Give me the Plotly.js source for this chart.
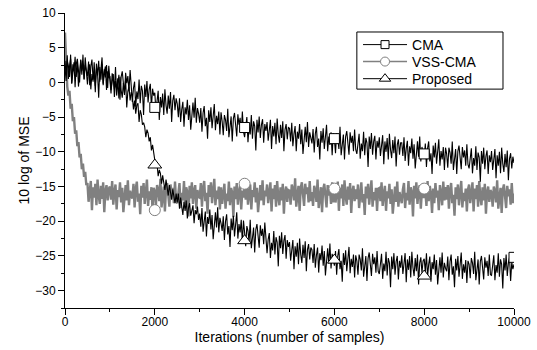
<!DOCTYPE html>
<html>
<head>
<meta charset="utf-8">
<script src="https://cdn.plot.ly/plotly-3.0.1.min.js"></script>
<style>html,body{margin:0;padding:0;background:#fff;}#chart{width:537px;height:350px;}</style>
</head>
<body>
<div id="chart"></div>
<script>
// Iteration index grid: one value every 25 samples, 0..10000
var STEP = 25;

var cma = [
3.1, 1.2, 3.9, 0.5, 2.3, 3.4, -0.2, 2.6, 1.6, 3.7, 0.8, 2.9, -0.6, 2.2, 3.3, 1.1, 4.0, 0.4, 2.5, 1.7,
0.9, 3.0, -0.4, 2.3, 3.3, 0.4, 1.6, -1.4, 2.7, 1.0, 3.1, 0.1, 2.2, 3.6, -0.2, 1.9, 0.7, 2.5, -0.8, 2.4,
0.4, -1.6, 1.3, 0.6, -1.0, 2.2, -1.9, -0.2, 1.1, -2.5, 0.8, 1.6, -0.7, -1.8, 1.4, -0.1, 0.9, -1.3, 1.8, -1.1,
-2.8, -0.8, 0.1, -3.5, -1.3, -2.4, 0.4, -3.0, -0.5, -1.2, -4.7, -0.3, -2.1, 0.2, -2.9, -1.0, -0.2, -3.6, -0.9, -1.9,
-1.5, -4.2, -2.8, -1.2, -5.4, -2.1, -3.6, -1.6, -4.7, -1.0, -3.3, -4.5, -1.9, -3.8, -1.4, -5.7, -2.6, -1.8, -4.0, -2.3,
-3.1, -5.0, -2.3, -5.7, -3.9, -2.8, -6.4, -3.6, -4.6, -2.5, -5.4, -3.3, -6.8, -4.0, -2.9, -5.1, -2.2, -5.8, -3.7, -4.5,
-5.8, -3.7, -7.1, -4.4, -3.4, -6.3, -5.1, -8.1, -4.0, -5.7, -3.6, -6.6, -4.5, -3.1, -6.9, -4.8, -6.0, -4.2, -7.5, -4.3,
-5.6, -7.6, -4.7, -5.4, -7.0, -3.8, -7.9, -6.2, -4.9, -8.5, -5.2, -4.4, -6.7, -7.8, -4.6, -6.1, -5.1, -7.3, -4.2, -7.1,
-7.9, -5.9, -5.0, -8.6, -6.4, -7.5, -4.7, -8.1, -5.6, -6.3, -9.8, -5.4, -7.2, -4.9, -8.0, -6.1, -5.3, -8.7, -6.0, -7.0,
-5.7, -8.4, -7.0, -5.4, -9.6, -6.3, -7.8, -5.8, -8.9, -5.2, -7.5, -8.7, -6.1, -8.0, -5.6, -9.9, -6.8, -6.0, -8.2, -6.5,
-6.6, -8.5, -5.8, -9.2, -7.4, -6.3, -9.9, -7.1, -8.1, -6.0, -8.9, -6.8, -10.3, -7.5, -6.4, -8.6, -5.7, -9.3, -7.2, -8.0,
-8.8, -6.7, -10.1, -7.4, -6.4, -9.3, -8.1, -11.1, -7.0, -8.7, -6.6, -9.6, -7.5, -6.1, -9.9, -7.8, -9.0, -7.2, -10.5, -7.3,
-8.2, -10.2, -7.3, -8.0, -9.6, -6.4, -10.5, -8.8, -7.5, -11.1, -7.8, -7.0, -9.3, -10.4, -7.2, -8.7, -7.7, -9.9, -6.8, -9.7,
-10.3, -8.3, -7.4, -11.0, -8.8, -9.9, -7.1, -10.5, -8.0, -8.7, -12.2, -7.8, -9.6, -7.3, -10.4, -8.5, -7.7, -11.1, -8.4, -9.4,
-7.9, -10.6, -9.2, -7.6, -11.8, -8.5, -10.0, -8.0, -11.1, -7.4, -9.7, -10.9, -8.3, -10.2, -7.8, -12.1, -9.0, -8.2, -10.4, -8.7,
-8.7, -10.6, -7.9, -11.3, -9.5, -8.4, -12.0, -9.2, -10.2, -8.1, -11.0, -8.9, -12.4, -9.6, -8.5, -10.7, -7.8, -11.4, -9.3, -10.1,
-10.9, -8.8, -12.2, -9.5, -8.5, -11.4, -10.2, -13.2, -9.1, -10.8, -8.7, -11.7, -9.6, -8.2, -12.0, -9.9, -11.1, -9.3, -12.6, -9.4,
-10.3, -12.3, -9.4, -10.1, -11.7, -8.5, -12.6, -10.9, -9.6, -13.2, -9.9, -9.1, -11.4, -12.5, -9.3, -10.8, -9.8, -12.0, -8.9, -11.8,
-12.4, -10.4, -9.5, -13.1, -10.9, -12.0, -9.2, -12.6, -10.1, -10.8, -14.3, -9.9, -11.7, -9.4, -12.5, -10.6, -9.8, -13.2, -10.5, -11.5,
-9.9, -12.6, -11.2, -9.6, -13.8, -10.5, -12.0, -10.0, -13.1, -9.4, -11.7, -12.9, -10.3, -12.2, -9.8, -14.1, -11.0, -10.2, -12.4, -10.7,
-11.6
];

var vssCma = [
7.2, 1.5, -0.6, -1.9, -1.2, -3.8, -3.1, -5.6, -5.0, -7.4, -6.9, -9.2, -8.6, -10.8, -10.3, -12.5, -11.7, -13.6, -12.9, -14.8,
-14.5, -17.2, -15.8, -14.2, -18.4, -15.1, -16.6, -14.6, -17.7, -14.0, -16.3, -17.5, -14.9, -16.8, -14.4, -18.7, -15.6, -14.8, -17.0, -15.3,
-15.0, -16.9, -14.2, -17.6, -15.8, -14.7, -18.3, -15.5, -16.5, -14.4, -17.3, -15.2, -18.7, -15.9, -14.8, -17.0, -14.1, -17.7, -15.6, -16.4,
-16.7, -14.6, -18.0, -15.3, -14.3, -17.2, -16.0, -19.0, -14.9, -16.6, -14.5, -17.5, -15.4, -14.0, -17.8, -15.7, -16.9, -15.1, -18.4, -15.2,
-15.7, -17.7, -14.8, -15.5, -17.1, -13.9, -18.0, -16.3, -15.0, -18.6, -15.3, -14.5, -16.8, -17.9, -14.7, -16.2, -15.2, -17.4, -14.3, -17.2,
-17.4, -15.4, -14.5, -18.1, -15.9, -17.0, -14.2, -17.6, -15.1, -15.8, -19.3, -14.9, -16.7, -14.4, -17.5, -15.6, -14.8, -18.2, -15.5, -16.5,
-16.6, -14.5, -17.9, -15.2, -14.2, -17.1, -15.9, -18.9, -14.8, -16.5, -14.4, -17.4, -15.3, -13.9, -17.7, -15.6, -16.8, -15.0, -18.3, -15.1,
-17.5, -15.5, -14.6, -18.2, -16.0, -17.1, -14.3, -17.7, -15.2, -15.9, -19.4, -15.0, -16.8, -14.5, -17.6, -15.7, -14.9, -18.3, -15.6, -16.6,
-15.0, -16.9, -14.2, -17.6, -15.8, -14.7, -18.3, -15.5, -16.5, -14.4, -17.3, -15.2, -18.7, -15.9, -14.8, -17.0, -14.1, -17.7, -15.6, -16.4,
-14.7, -17.4, -16.0, -14.4, -18.6, -15.3, -16.8, -14.8, -17.9, -14.2, -16.5, -17.7, -15.1, -17.0, -14.6, -18.9, -15.8, -15.0, -17.2, -15.5,
-15.6, -17.6, -14.7, -15.4, -17.0, -13.8, -17.9, -16.2, -14.9, -18.5, -15.2, -14.4, -16.7, -17.8, -14.6, -16.1, -15.1, -17.3, -14.2, -17.1,
-15.8, -17.8, -14.9, -15.6, -17.2, -14.0, -18.1, -16.4, -15.1, -18.7, -15.4, -14.6, -16.9, -18.0, -14.8, -16.3, -15.3, -17.5, -14.4, -17.3,
-14.6, -17.3, -15.9, -14.3, -18.5, -15.2, -16.7, -14.7, -17.8, -14.1, -16.4, -17.6, -15.0, -16.9, -14.5, -18.8, -15.7, -14.9, -17.1, -15.4,
-16.8, -14.7, -18.1, -15.4, -14.4, -17.3, -16.1, -19.1, -15.0, -16.7, -14.6, -17.6, -15.5, -14.1, -17.9, -15.8, -17.0, -15.2, -18.5, -15.3,
-15.2, -17.1, -14.4, -17.8, -16.0, -14.9, -18.5, -15.7, -16.7, -14.6, -17.5, -15.4, -18.9, -16.1, -15.0, -17.2, -14.3, -17.9, -15.8, -16.6,
-17.4, -15.4, -14.5, -18.1, -15.9, -17.0, -14.2, -17.6, -15.1, -15.8, -19.3, -14.9, -16.7, -14.4, -17.5, -15.6, -14.8, -18.2, -15.5, -16.5,
-16.5, -15.7, -17.8, -14.2, -17.1, -14.9, -16.0, -18.8, -15.3, -17.4, -14.5, -16.6, -15.6, -18.4, -14.8, -15.9, -17.7, -14.3, -17.0, -15.1,
-16.9, -14.8, -18.2, -15.5, -14.5, -17.4, -16.2, -19.2, -15.1, -16.8, -14.7, -17.7, -15.6, -14.2, -18.0, -15.9, -17.1, -15.3, -18.6, -15.4,
-14.7, -17.4, -16.0, -14.4, -18.6, -15.3, -16.8, -14.8, -17.9, -14.2, -16.5, -17.7, -15.1, -17.0, -14.6, -18.9, -15.8, -15.0, -17.2, -15.5,
-15.9, -17.9, -15.0, -15.7, -17.3, -14.1, -18.2, -16.5, -15.2, -18.8, -15.5, -14.7, -17.0, -18.1, -14.9, -16.4, -15.4, -17.6, -14.5, -17.4,
-16.0
];

var proposed = [
2.2, 0.2, 3.1, 2.4, 0.8, 4.0, -0.1, 1.6, 2.9, -0.7, 2.6, 3.4, 1.1, 0.0, 3.2, 1.7, 2.7, 0.5, 3.6, 0.7,
-0.3, 1.7, 2.6, -1.0, 1.2, 0.1, 2.9, -0.5, 2.0, 1.3, -2.2, 2.2, 0.4, 2.7, -0.4, 1.5, 2.3, -1.1, 1.6, 0.6,
0.9, -1.1, 0.0, 1.2, -2.1, 0.2, -1.0, 0.6, -2.3, 0.8, -1.1, -2.2, -0.1, -1.5, 0.4, -3.6, -1.3, -0.6, -2.6, -1.4,
-2.0, -3.9, -2.6, -4.5, -3.3, -3.0, -5.7, -4.0, -4.6, -6.1, -5.8, -6.4, -7.9, -6.8, -7.3, -8.5, -7.9, -9.8, -9.0, -10.6,
-11.2, -12.3, -11.8, -13.5, -12.6, -13.1, -14.6, -13.4, -14.2, -15.5, -14.0, -15.1, -16.3, -14.8, -15.6, -16.9, -15.4, -16.2, -17.4, -16.0,
-17.3, -16.0, -18.2, -16.6, -17.9, -19.1, -17.2, -18.5, -17.0, -19.6, -18.1, -17.4, -19.2, -18.6, -17.7, -20.3, -18.4, -19.0, -17.9, -19.8,
-18.9, -20.8, -18.1, -21.5, -19.7, -18.6, -22.2, -19.4, -20.4, -18.3, -21.2, -19.1, -22.6, -19.8, -18.7, -20.9, -18.0, -21.6, -19.5, -20.3,
-21.4, -19.3, -22.7, -20.0, -19.0, -21.9, -20.7, -23.7, -19.6, -21.3, -19.2, -22.2, -20.1, -18.7, -22.5, -20.4, -21.6, -19.8, -23.1, -19.9,
-21.6, -23.6, -20.7, -21.4, -23.0, -19.8, -23.9, -22.2, -20.9, -24.5, -21.2, -20.4, -22.7, -23.8, -20.6, -22.1, -21.1, -23.3, -20.2, -23.1,
-24.6, -22.6, -21.7, -25.3, -23.1, -24.2, -21.4, -24.8, -22.3, -23.0, -26.5, -22.1, -23.9, -21.6, -24.7, -22.8, -22.0, -25.4, -22.7, -23.7,
-23.0, -25.7, -24.3, -22.7, -26.9, -23.6, -25.1, -23.1, -26.2, -22.5, -24.8, -26.0, -23.4, -25.3, -22.9, -27.2, -24.1, -23.3, -25.5, -23.8,
-24.1, -26.0, -23.3, -26.7, -24.9, -23.8, -27.4, -24.6, -25.6, -23.5, -26.4, -24.3, -27.8, -25.0, -23.9, -26.1, -23.2, -26.8, -24.7, -25.5,
-26.4, -24.3, -27.7, -25.0, -24.0, -26.9, -25.7, -28.7, -24.6, -26.3, -24.2, -27.2, -25.1, -23.7, -27.5, -25.4, -26.6, -24.8, -28.1, -24.9,
-25.7, -27.7, -24.8, -25.5, -27.1, -23.9, -28.0, -26.3, -25.0, -28.6, -25.3, -24.5, -26.8, -27.9, -24.7, -26.2, -25.2, -27.4, -24.3, -27.2,
-27.6, -25.6, -24.7, -28.3, -26.1, -27.2, -24.4, -27.8, -25.3, -26.0, -29.5, -25.1, -26.9, -24.6, -27.7, -25.8, -25.0, -28.4, -25.7, -26.7,
-24.9, -27.6, -26.2, -24.6, -28.8, -25.5, -27.0, -25.0, -28.1, -24.4, -26.7, -27.9, -25.3, -27.2, -24.8, -29.1, -26.0, -25.2, -27.4, -25.7,
-25.4, -27.3, -24.6, -28.0, -26.2, -25.1, -28.7, -25.9, -26.9, -24.8, -27.7, -25.6, -29.1, -26.3, -25.2, -27.4, -24.5, -28.1, -26.0, -26.8,
-27.2, -25.1, -28.5, -25.8, -24.8, -27.7, -26.5, -29.5, -25.4, -27.1, -25.0, -28.0, -25.9, -24.5, -28.3, -26.2, -27.4, -25.6, -28.9, -25.7,
-26.2, -28.2, -25.3, -26.0, -27.6, -24.4, -28.5, -26.8, -25.5, -29.1, -25.8, -25.0, -27.3, -28.4, -25.2, -26.7, -25.7, -27.9, -24.8, -27.7,
-27.8, -25.8, -24.9, -28.5, -26.3, -27.4, -24.6, -28.0, -25.5, -26.2, -29.7, -25.3, -27.1, -24.8, -27.9, -26.0, -25.2, -28.6, -25.9, -26.9,
-26.2
];

// Marker positions
var markX = [2000, 4000, 6000, 8000];
var cmaMarkY = [-3.6, -6.5, -8.1, -10.3];
var vssMarkY = [-18.4, -14.6, -15.3, -15.3];
var propMarkY = [-11.9, -22.8, -25.6, -27.9];
var edgeMarkX = [10000];
var edgeMarkY = [-25.2];

var names = ['CMA', 'VSS-CMA', 'Proposed'];

var iters = [];
for (var i = 0; i < cma.length; i++) iters.push(i * STEP);

var BLACK = '#000000', GRAY = '#808080';

var traces = [
  {x: iters, y: vssCma, mode: 'lines', line: {color: GRAY, width: 2.4}, showlegend: false, hoverinfo: 'skip'},
  {x: iters, y: cma, mode: 'lines', line: {color: BLACK, width: 1.1}, showlegend: false, hoverinfo: 'skip'},
  {x: iters, y: proposed, mode: 'lines', line: {color: BLACK, width: 1.1}, showlegend: false, hoverinfo: 'skip'},
  {x: markX, y: cmaMarkY, mode: 'markers', marker: {symbol: 'square', size: 10, color: '#fff', line: {color: BLACK, width: 1}}, showlegend: false},
  {x: markX, y: vssMarkY, mode: 'markers', marker: {symbol: 'circle', size: 11, color: '#fff', line: {color: GRAY, width: 1}}, showlegend: false},
  {x: markX, y: propMarkY, mode: 'markers', marker: {symbol: 'triangle-up', size: 12, color: '#fff', line: {color: BLACK, width: 1}}, showlegend: false},
  {x: edgeMarkX, y: edgeMarkY, mode: 'markers', marker: {symbol: 'square', size: 10, color: '#fff', line: {color: BLACK, width: 1}}, showlegend: false},
  // legend entries
  {x: [null], y: [null], name: names[0], legend: 'legend', mode: 'lines+markers', line: {color: BLACK, width: 1}, marker: {symbol: 'square', size: 8, color: '#fff', line: {color: BLACK, width: 1}}},
  {x: [null], y: [null], name: names[1], legend: 'legend2', mode: 'lines+markers', line: {color: GRAY, width: 1.5}, marker: {symbol: 'circle', size: 9, color: '#fff', line: {color: GRAY, width: 1}}},
  {x: [null], y: [null], name: names[2], legend: 'legend3', mode: 'lines+markers', line: {color: BLACK, width: 1}, marker: {symbol: 'triangle-up', size: 10, color: '#fff', line: {color: BLACK, width: 1}}}
];

var FONT = 'Arial, "Liberation Sans", sans-serif';
var common = {showgrid: false, zeroline: false, showline: true, linecolor: BLACK, linewidth: 1, tickcolor: BLACK, tickwidth: 1};

function legendAt(yPaper) {
  return {x: 0.6526, y: yPaper, xanchor: 'left', yanchor: 'middle', itemwidth: 44,
    bgcolor: 'rgba(0,0,0,0)', borderwidth: 0, font: {size: 14, family: FONT}};
}

var layout = {
  width: 537, height: 350,
  margin: {l: 65, r: 23, t: 13, b: 42},
  paper_bgcolor: '#fff', plot_bgcolor: '#fff',
  font: {family: FONT, color: BLACK, size: 12},
  xaxis: Object.assign({}, common, {
    range: [0, 10000], dtick: 2000, tick0: 0, tickformat: 'd', ticks: 'outside', ticklen: 6,
    ticklabelstandoff: -3,
    minor: {dtick: 1000, ticks: 'outside', ticklen: 3, tickcolor: BLACK, showgrid: false},
    tickfont: {size: 12}, title: {text: 'Iterations (number of samples)', font: {size: 14}, standoff: 0}
  }),
  yaxis: Object.assign({}, common, {
    range: [-32.5, 10], dtick: 5, tick0: 0, ticks: 'outside', ticklen: 6,
    minor: {dtick: 2.5, ticks: 'outside', ticklen: 3, tickcolor: BLACK, showgrid: false},
    tickfont: {size: 12}, title: {text: '10 log of MSE', font: {size: 14}, standoff: 2}
  }),
  xaxis2: Object.assign({}, common, {
    overlaying: 'x', side: 'top', anchor: 'y', range: [0, 10000], dtick: 2000, tick0: 0,
    ticks: 'inside', ticklen: 6, showticklabels: false,
    minor: {dtick: 1000, ticks: 'inside', ticklen: 3, tickcolor: BLACK, showgrid: false}
  }),
  yaxis2: Object.assign({}, common, {
    overlaying: 'y', side: 'right', anchor: 'x', range: [-32.5, 10], dtick: 5, tick0: 0,
    ticks: 'inside', ticklen: 6, showticklabels: false,
    minor: {dtick: 2.5, ticks: 'inside', ticklen: 3, tickcolor: BLACK, showgrid: false}
  }),
  legend: legendAt(0.8915),
  legend2: legendAt(0.834),
  legend3: legendAt(0.776),
  shapes: [{type: 'rect', xref: 'paper', yref: 'paper', x0: 0.650, x1: 0.9755, y0: 0.742, y1: 0.9356,
    line: {color: BLACK, width: 1}, fillcolor: '#fff', layer: 'below'}],
  showlegend: true
};

Plotly.newPlot('chart', traces, layout, {staticPlot: true, displayModeBar: false});
</script>
</body>
</html>
